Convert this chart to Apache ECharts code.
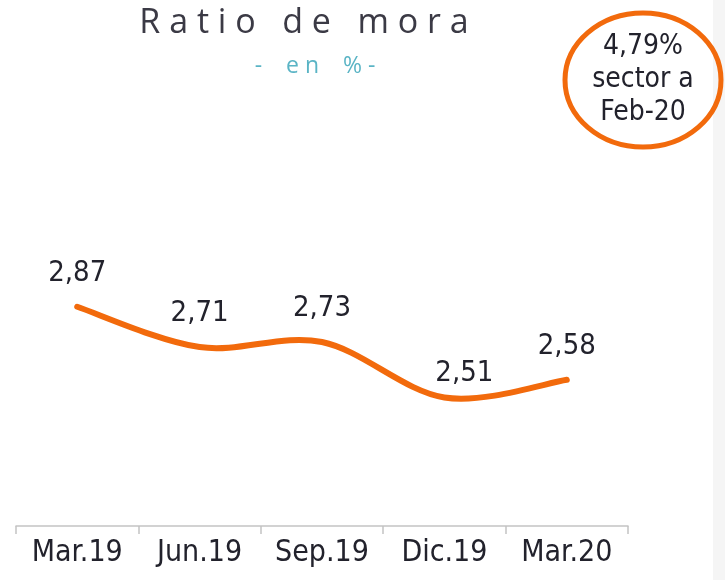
<!DOCTYPE html>
<html>
<head>
<meta charset="utf-8">
<script src="https://cdn.jsdelivr.net/npm/echarts@6/dist/echarts.min.js"></script>
<style>
  html, body { margin: 0; padding: 0; background: #fff; }
  #myChart { width: 725px; height: 580px; }
</style>
</head>
<body>
<div id="myChart"></div>
<script>
  // datos
  var categorias = ['Mar.19', 'Jun.19', 'Sep.19', 'Dic.19', 'Mar.20'];
  var ratioMora = [2.87, 2.71, 2.73, 2.51, 2.58];
  var notaSector = ['4,79%', 'sector a', 'Feb-20'];

  var naranja = '#f26a0c';
  var fuente = '"DejaVu Sans Condensed", "DejaVu Sans", sans-serif';

  // curva suave tipo catmull-rom a partir de las coordenadas del eje
  function dibujarCurva(params, api) {
    if (params.dataIndex !== 0) return null;
    var p = ratioMora.map(function (v, i) { return api.coord([i, v]); });
    var d = 'M' + p[0][0] + ' ' + p[0][1];
    for (var i = 0; i < p.length - 1; i++) {
      var p0 = p[i - 1] || p[i];
      var p1 = p[i];
      var p2 = p[i + 1];
      var p3 = p[i + 2] || p[i + 1];
      var c1x = p1[0] + (p2[0] - p0[0]) / 6, c1y = p1[1] + (p2[1] - p0[1]) / 6;
      var c2x = p2[0] - (p3[0] - p1[0]) / 6, c2y = p2[1] - (p3[1] - p1[1]) / 6;
      d += ' C' + c1x + ' ' + c1y + ' ' + c2x + ' ' + c2y + ' ' + p2[0] + ' ' + p2[1];
    }
    return {
      type: 'path',
      shape: {pathData: d},
      style: {fill: 'none', stroke: naranja, lineWidth: 6, lineCap: 'round'}
    };
  }

  // la etiqueta de Dic.19 va algo desplazada, como en el original
  var puntosEtiqueta = ratioMora.map(function (v, i) {
    if (i === 3) return {value: v, label: {offset: [20, 9]}};
    return v;
  });

  var myChart = echarts.init(document.getElementById('myChart'));
  myChart.setOption({
    animation: false,
    title: [
      {
        text: 'R a t i o   d e   m o r a',
        left: 299,
        textAlign: 'center',
        top: 1,
        textStyle: {fontFamily: '"Open Sans", sans-serif', fontSize: 34, fontWeight: 'normal', color: '#3b3a45'}
      },
      {
        text: '-    e n    % -',
        left: 310,
        textAlign: 'center',
        top: 50,
        textStyle: {fontFamily: '"Open Sans", sans-serif', fontSize: 23, fontWeight: 'normal', color: '#5ab4c5'}
      }
    ],
    grid: {left: 16, right: 97, top: 22, bottom: 54},
    xAxis: {
      type: 'category',
      boundaryGap: true,
      data: categorias,
      axisLine: {lineStyle: {color: '#c4c4c4', width: 1.5}},
      axisTick: {show: true, length: 8, lineStyle: {color: '#c4c4c4', width: 1.5}},
      axisLabel: {fontFamily: fuente, fontSize: 30, color: '#22222c', margin: 12}
    },
    yAxis: {
      type: 'value',
      min: 2,
      max: 4,
      show: false
    },
    series: [
      {
        type: 'custom',
        renderItem: dibujarCurva,
        data: ratioMora.map(function (v, i) { return [i, v]; }),
        z: 2
      },
      {
        type: 'line',
        data: puntosEtiqueta,
        symbol: 'circle',
        symbolSize: 2,
        showSymbol: true,
        itemStyle: {color: 'rgba(0,0,0,0)'},
        lineStyle: {width: 0, opacity: 0},
        z: 3,
        label: {
          show: true,
          position: 'top',
          distance: 18,
          fontFamily: fuente,
          fontSize: 29,
          color: '#22222c',
          formatter: function (p) { return p.value.toFixed(2).replace('.', ','); }
        }
      }
    ],
    graphic: [
      {
        type: 'rect',
        shape: {x: 713, y: 0, width: 12, height: 580},
        style: {fill: '#f5f5f5'},
        silent: true
      },
      {
        type: 'ellipse',
        shape: {cx: 643, cy: 80, rx: 78, ry: 67},
        style: {fill: 'transparent', stroke: naranja, lineWidth: 5}
      },
      {
        type: 'text',
        x: 643,
        y: 80,
        style: {
          text: notaSector.join('\n'),
          fontFamily: fuente,
          fontSize: 28,
          lineHeight: 33,
          fill: '#22222c',
          align: 'center',
          verticalAlign: 'middle'
        }
      }
    ]
  });
</script>
</body>
</html>
